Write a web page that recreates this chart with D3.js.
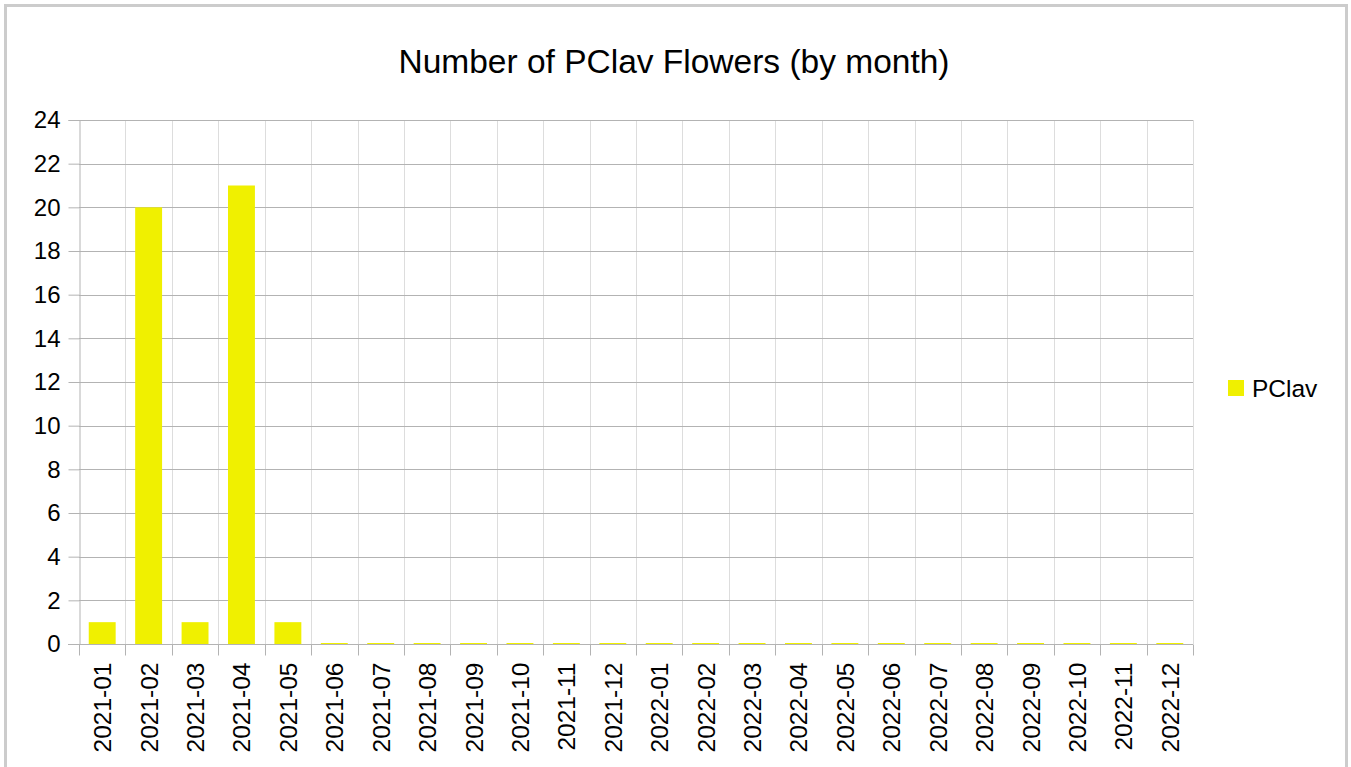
<!DOCTYPE html>
<html>
<head>
<meta charset="utf-8">
<script src="https://cdn.jsdelivr.net/npm/d3@7"></script>
<style>
  body { margin: 0; background: #fff; }
  text { font-family: "Liberation Sans", Arial, sans-serif; fill: #000; }
</style>
</head>
<body>
<svg id="chart" width="1351" height="767"></svg>
<script>
// months on the x axis
var months = ["2021-01", "2021-02", "2021-03", "2021-04", "2021-05", "2021-06",
  "2021-07", "2021-08", "2021-09", "2021-10", "2021-11", "2021-12",
  "2022-01", "2022-02", "2022-03", "2022-04", "2022-05", "2022-06",
  "2022-07", "2022-08", "2022-09", "2022-10", "2022-11", "2022-12"]
// flower counts per month
var pclav = [1, 20, 1, 21, 1, 0, 0, 0, 0, 0, 0, 0, 0, 0, 0, 0, 0, 0, 0, 0, 0, 0, 0, 0]
var yTicks = [0, 2, 4, 6, 8, 10, 12, 14, 16, 18, 20, 22, 24]
var seriesName = "PClav"
var title = "Number of PClav Flowers (by month)"

// plot area
var margin = {top: 120, left: 79, right: 1193, bottom: 644}

const svg = d3.select("#chart")

svg.append("rect")
  .attr("width", 1351).attr("height", 767).attr("fill", "#fff")

// outer frame (bottom is cut off)
svg.append("rect")
  .attr("x", 5.5).attr("y", 5.5)
  .attr("width", 1341).attr("height", 800)
  .attr("fill", "none")
  .attr("stroke", "#cccccc")
  .attr("stroke-width", 3)

const x = d3.scaleBand()
  .domain(months)
  .range([margin.left, margin.right])
  .paddingInner(0.42)
  .paddingOuter(0.21)

const y = d3.scaleLinear()
  .domain([0, 24])
  .range([margin.bottom, margin.top])

// vertical grid lines at band edges
const step = x.step()
svg.append("g")
  .selectAll("line")
  .data(d3.range(1, months.length + 1))
  .join("line")
  .attr("x1", i => Math.round(margin.left + i * step) + 0.5)
  .attr("x2", i => Math.round(margin.left + i * step) + 0.5)
  .attr("y1", margin.top)
  .attr("y2", margin.bottom)
  .attr("stroke", "#dddddd")

// horizontal grid lines
svg.append("g")
  .selectAll("line")
  .data(yTicks)
  .join("line")
  .attr("x1", margin.left)
  .attr("x2", margin.right)
  .attr("y1", d => Math.round(y(d)) + 0.5)
  .attr("y2", d => Math.round(y(d)) + 0.5)
  .attr("stroke", "#b3b3b3")

// bars
svg.append("g")
  .selectAll("rect")
  .data(pclav)
  .join("rect")
  .attr("x", (d, i) => x(months[i]))
  .attr("width", x.bandwidth())
  .attr("y", d => Math.min(y(d), y(0) - 1))
  .attr("height", d => y(0) - Math.min(y(d), y(0) - 1))
  .attr("fill", "#f0f000")

// y axis
const yAxis = svg.append("g")
  .attr("transform", `translate(${margin.left + 0.5},0)`)
  .call(d3.axisLeft(y).tickValues(yTicks).tickSize(11).tickPadding(8))
yAxis.select(".domain").attr("stroke", "#b3b3b3")
yAxis.selectAll(".tick line").attr("stroke", "#b3b3b3")
yAxis.selectAll(".tick text")
  .attr("font-size", 24)
  .attr("font-family", "Liberation Sans, Arial, sans-serif")
  .attr("fill", "#000")

// x axis
const xAxis = svg.append("g")
  .attr("transform", `translate(0,${margin.bottom + 0.5})`)
xAxis.append("line")
  .attr("x1", margin.left - 11).attr("x2", margin.right)
  .attr("stroke", "#b3b3b3")
xAxis.selectAll(".xtick")
  .data(d3.range(0, months.length + 1))
  .join("line")
  .attr("class", "xtick")
  .attr("x1", i => Math.round(margin.left + i * step) + 0.5)
  .attr("x2", i => Math.round(margin.left + i * step) + 0.5)
  .attr("y1", 0).attr("y2", 11)
  .attr("stroke", "#b3b3b3")
xAxis.selectAll(".xlabel")
  .data(months)
  .join("text")
  .attr("class", "xlabel")
  .attr("transform", d => `translate(${x(d) + x.bandwidth() / 2 + 9},18) rotate(-90)`)
  .attr("text-anchor", "end")
  .attr("font-size", 24.5)
  .text(d => d)

// title
svg.append("text")
  .attr("x", 674)
  .attr("y", 73)
  .attr("text-anchor", "middle")
  .attr("font-size", 33.5)
  .text(title)

// legend
svg.append("rect")
  .attr("x", 1228).attr("y", 380)
  .attr("width", 16).attr("height", 16)
  .attr("fill", "#f0f000")
svg.append("text")
  .attr("x", 1252).attr("y", 397)
  .attr("font-size", 24.5)
  .text(seriesName)
</script>
</body>
</html>
